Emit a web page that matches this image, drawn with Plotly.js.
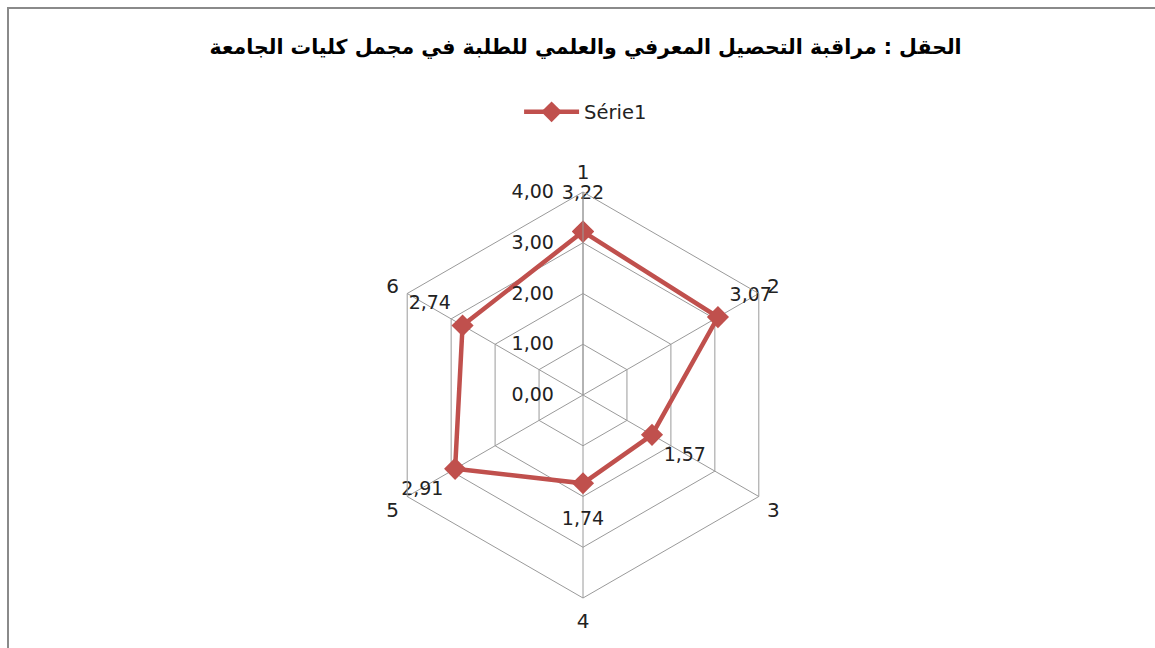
<!DOCTYPE html>
<html>
<head>
<meta charset="utf-8">
<script src="https://cdn.plot.ly/plotly-3.0.1.min.js"></script>
<style>
  html, body { margin: 0; padding: 0; background: #ffffff; }
  #frame { position: absolute; left: 7px; top: 7px; width: 1200px; height: 700px; border: 2px solid #8a8a8a; box-sizing: border-box; pointer-events: none; }
  #chart { position: absolute; left: 0; top: 0; width: 1155px; height: 648px; }
</style>
</head>
<body>
<div id="chart"></div>
<div id="frame"></div>
<script>
const categories = ["1", "2", "3", "4", "5", "6"];
const values = [3.22, 3.07, 1.57, 1.74, 2.91, 2.74];
const valueLabels = ["3,22", "3,07", "1,57", "1,74", "2,91", "2,74"];
const labelPositions = ["above", "top right", "bottom right", "below", "bottom left", "top left"];
const seriesName = "Série1";
const titleText = "الحقل : مراقبة التحصيل المعرفي والعلمي للطلبة في مجمل كليات الجامعة";

const red = "#C0504D";
const grid = "#9a9a9a";
const font = "DejaVu Sans";

// labels straight above / below a point sit farther away in the reference:
// centre a padded multi-line block on the point so the label line ends up offset
const pad = " <br> <br> ";
const pointText = valueLabels.map((t, i) =>
  labelPositions[i] === "above" ? t + "<br>" + pad :
  labelPositions[i] === "below" ? pad + "<br>" + t : t);
const pointPos = labelPositions.map(p => (p === "above" || p === "below") ? "middle center" : p);

const trace = {
  type: "scatterpolar",
  r: values.concat([values[0]]),
  theta: categories.concat([categories[0]]),
  name: seriesName,
  mode: "lines+markers+text",
  text: pointText.concat([""]),
  textposition: pointPos.concat(["middle center"]),
  textfont: { family: font, size: 19, color: "#222" },
  line: { color: red, width: 4.5 },
  marker: { symbol: "diamond", size: 17, color: red },
  cliponaxis: false
};

const layout = {
  width: 1155, height: 648,
  margin: { l: 0, r: 0, t: 0, b: 0 },
  paper_bgcolor: "#ffffff",
  title: { text: "<b>" + titleText + "</b>", x: 0.507, xanchor: "center", y: 0.927, yanchor: "middle",
           font: { family: font, size: 20.5, color: "#000" } },
  showlegend: true,
  legend: { orientation: "h", x: 0.507, xanchor: "center", y: 0.827, yanchor: "middle",
            font: { family: font, size: 19.5, color: "#222" }, itemwidth: 55 },
  separators: ",.",
  polar: {
    domain: { x: [380 / 1155, 786 / 1155], y: [50 / 648, 456 / 648] },
    gridshape: "linear",
    bgcolor: "rgba(0,0,0,0)",
    radialaxis: {
      range: [0, 4], dtick: 1, tick0: 0, tickformat: ".2f",
      angle: 90, side: "counterclockwise", tickangle: 90,
      showline: true, linecolor: grid, linewidth: 1,
      gridcolor: grid, gridwidth: 1,
      ticks: "outside", ticklen: 22, tickcolor: "rgba(0,0,0,0)",
      tickfont: { family: font, size: 19, color: "#222" }
    },
    angularaxis: {
      type: "category", categoryarray: categories,
      rotation: 90, direction: "clockwise",
      showline: true, linecolor: grid, linewidth: 1,
      gridcolor: grid, gridwidth: 1,
      ticks: "outside", ticklen: 5, tickcolor: "rgba(0,0,0,0)",
      tickfont: { family: font, size: 20, color: "#222" }
    }
  }
};

Plotly.newPlot("chart", [trace], layout, { displayModeBar: false, staticPlot: true });
</script>
</body>
</html>
